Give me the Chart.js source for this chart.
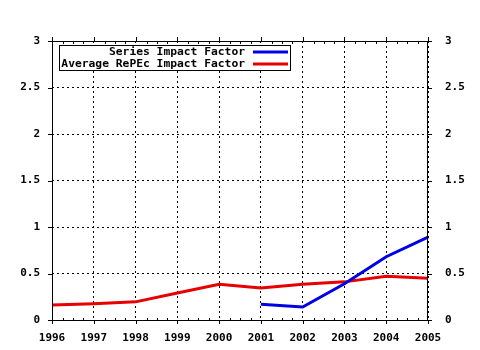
<!DOCTYPE html>
<html lang="en">
<head>
    <meta charset="UTF-8">
    <title>Impact Factor</title>
    <script src="https://cdn.jsdelivr.net/npm/chart.js"></script>
    <style>
        body { margin: 0; background: #fff; }
        canvas { display: block; }
    </style>
</head>
<body>
    <canvas id="ifChart" width="480" height="350"></canvas>

    <script>
        const years = ['1996', '1997', '1998', '1999', '2000', '2001', '2002', '2003', '2004', '2005'];
        const seriesIF = [null, null, null, null, null, 0.17, 0.14, 0.39, 0.68, 0.89];
        const repecIF = [0.16, 0.175, 0.195, 0.29, 0.385, 0.345, 0.385, 0.41, 0.47, 0.45];
        const seriesLabels = ['Series Impact Factor', 'Average RePEc Impact Factor'];

        const FONT = { family: '"DejaVu Sans Mono", monospace', size: 11, weight: 'bold' };

        // box, tick marks and the boxed legend, like the old gnuplot style
        const frame = {
            id: 'frame',
            afterDraw(chart) {
                const ctx = chart.ctx;
                const a = chart.chartArea;
                const x = chart.scales.x, y = chart.scales.y;
                ctx.save();
                ctx.strokeStyle = '#000';
                ctx.lineWidth = 1;
                ctx.setLineDash([]);
                ctx.strokeRect(a.left + 0.5, a.top + 0.5, a.right - a.left - 1, a.bottom - a.top);

                ctx.beginPath();
                // y ticks, outward on both sides
                y.ticks.forEach(t => {
                    const py = Math.round(y.getPixelForValue(t.value)) + 0.5;
                    ctx.moveTo(a.left - 4, py); ctx.lineTo(a.left, py);
                    ctx.moveTo(a.right, py); ctx.lineTo(a.right + 4, py);
                });
                // x ticks, major outward, minor inward
                for (let i = 0; i < years.length; i++) {
                    const px = Math.round(x.getPixelForValue(i)) + 0.5;
                    ctx.moveTo(px, a.bottom); ctx.lineTo(px, a.bottom + 4);
                    ctx.moveTo(px, a.top); ctx.lineTo(px, a.top - 4);
                    if (i < years.length - 1) {
                        const nx = x.getPixelForValue(i + 1);
                        for (let k = 1; k < 4; k++) {
                            const mx = Math.round(px + (nx - px) * k / 4) + 0.5;
                            ctx.moveTo(mx, a.bottom); ctx.lineTo(mx, a.bottom - 2);
                            ctx.moveTo(mx, a.top + 1); ctx.lineTo(mx, a.top + 3);
                        }
                    }
                }
                ctx.stroke();

                // legend
                ctx.fillStyle = '#fff';
                ctx.fillRect(59, 45, 231, 25);
                ctx.strokeRect(59.5, 45.5, 231, 25);
                ctx.font = 'bold 11.3px "DejaVu Sans Mono", monospace';
                ctx.textAlign = 'right';
                ctx.textBaseline = 'middle';
                chart.data.datasets.forEach((ds, i) => {
                    const ly = 52 + i * 12;
                    ctx.fillStyle = '#000';
                    ctx.fillText(ds.label, 245, ly);
                    ctx.strokeStyle = ds.borderColor;
                    ctx.lineWidth = 3;
                    ctx.beginPath();
                    ctx.moveTo(253, ly); ctx.lineTo(288, ly);
                    ctx.stroke();
                });
                ctx.restore();
            }
        };

        const gridOpts = { color: '#000', lineWidth: 1, drawTicks: false };
        const borderOpts = { display: false, dash: [2, 3] };
        const fmt = v => String(v);

        new Chart(document.getElementById('ifChart'), {
            type: 'line',
            data: {
                labels: years,
                datasets: [
                    { label: seriesLabels[0], data: seriesIF, borderColor: '#0000e6', yAxisID: 'y' },
                    { label: seriesLabels[1], data: repecIF, borderColor: '#e60000', yAxisID: 'y' }
                ]
            },
            options: {
                responsive: false,
                animation: false,
                layout: { padding: { top: 41, left: 0, right: 0, bottom: 0 } },
                elements: {
                    line: { borderWidth: 3, tension: 0, fill: false },
                    point: { radius: 0 }
                },
                plugins: { legend: { display: false }, tooltip: { enabled: false } },
                scales: {
                    x: {
                        offset: false,
                        grid: gridOpts,
                        border: borderOpts,
                        ticks: { color: '#000', font: FONT, padding: 12, maxRotation: 0, autoSkip: false },
                        afterFit: s => { s.height = 30; }
                    },
                    y: {
                        position: 'left',
                        min: 0, max: 3,
                        grid: gridOpts,
                        border: borderOpts,
                        ticks: { stepSize: 0.5, color: '#000', font: FONT, padding: 12, callback: fmt },
                        afterFit: s => { s.width = 52; }
                    },
                    y2: {
                        position: 'right',
                        min: 0, max: 3,
                        grid: { display: false, drawTicks: false },
                        border: { display: false },
                        ticks: { stepSize: 0.5, color: '#000', font: FONT, padding: 17, callback: fmt },
                        afterFit: s => { s.width = 52; }
                    }
                }
            },
            plugins: [frame]
        });
    </script>
</body>
</html>
